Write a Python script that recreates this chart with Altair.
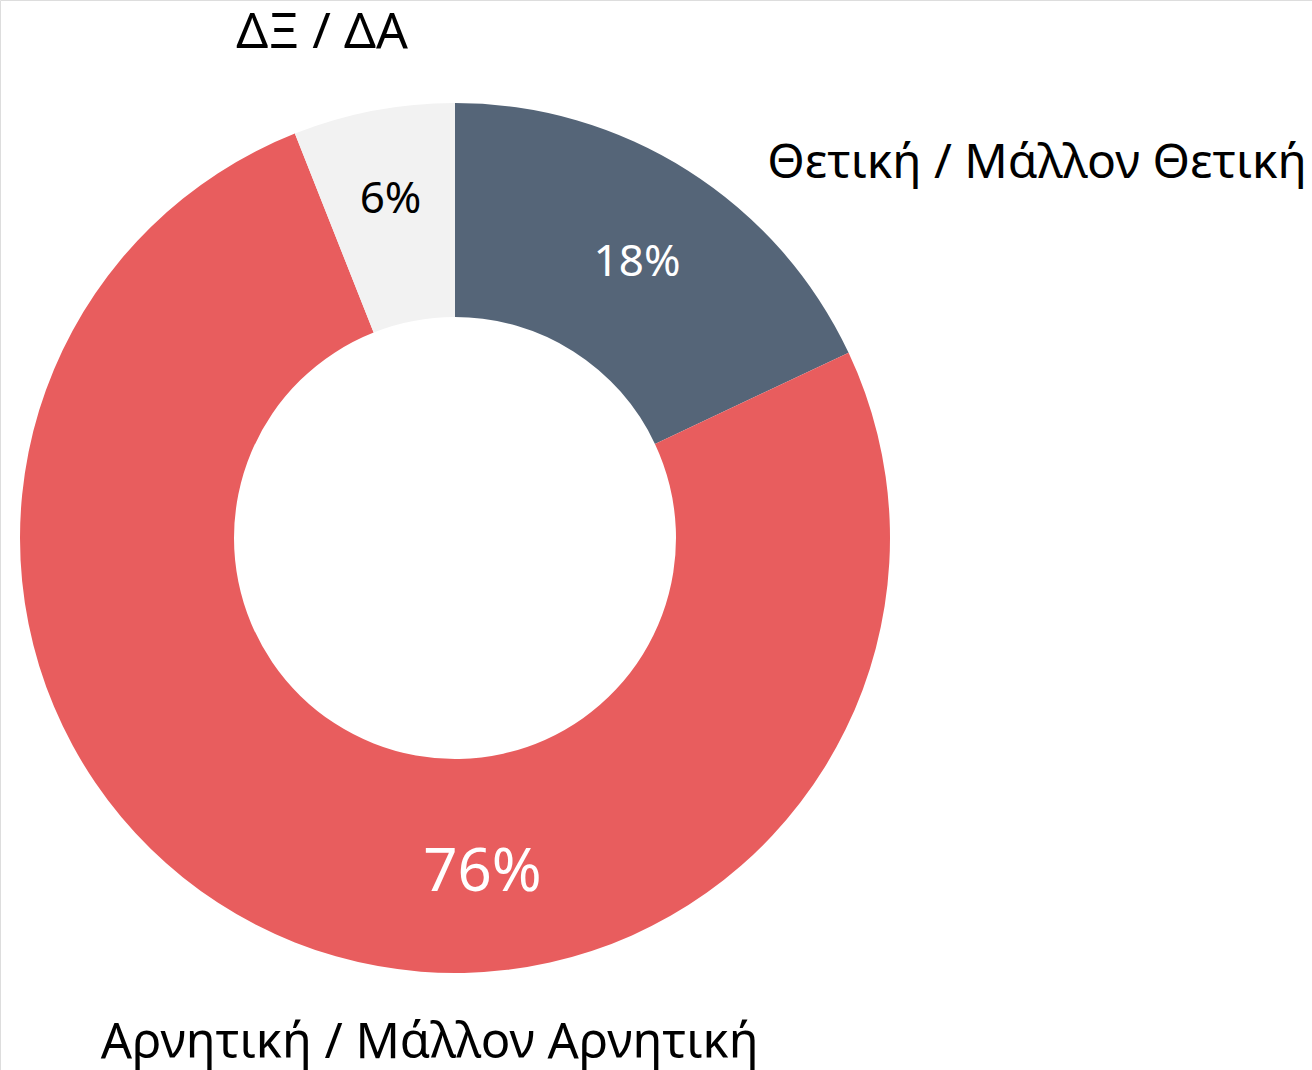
import altair as alt
import pandas as pd

categories = ["Θετική / Μάλλον Θετική", "Αρνητική / Μάλλον Αρνητική", "ΔΞ / ΔΑ"]
shares = [18, 76, 6]
pct_labels = ["18%", "76%", "6%"]
slice_order = [0, 1, 2]

# label placement (angle in percent-of-circle units, radius in px)
pct_label_angle = [9.3, 48.7, 97.0]
pct_label_radius = [330, 336, 344]
pct_label_size = [44, 60, 44]
cat_label_angle = [15.9, 50.8, 95.9]
cat_label_radius = [692, 506, 522]
cat_label_size = [48, 49, 50]

colors = ["#556578", "#E85D5E", "#F2F2F2"]
pct_text_colors = ["#FFFFFF", "#FFFFFF", "#000000"]

FONT = "Noto Sans"
CX, CY = 455, 538

df = pd.DataFrame({
    "cat": categories,
    "share": shares,
    "ord": slice_order,
    "pct": pct_labels,
    "pa": pct_label_angle,
    "pr": pct_label_radius,
    "ps": pct_label_size,
    "pc": pct_text_colors,
    "ca": cat_label_angle,
    "cr": cat_label_radius,
    "cs": cat_label_size,
})

theta_scale = alt.Scale(domain=[0, 100])

arcs = alt.Chart(df).mark_arc(radius=435, innerRadius=221).encode(
    theta=alt.Theta("share:Q", stack=True, scale=theta_scale),
    color=alt.Color("cat:N", scale=alt.Scale(domain=categories, range=colors), legend=None),
    order=alt.Order("ord:Q"),
    x=alt.value(CX),
    y=alt.value(CY),
)

pct_text = alt.Chart(df).mark_text(font=FONT, baseline="middle", align="center").encode(
    theta=alt.Theta("pa:Q", stack=False, scale=theta_scale),
    radius=alt.Radius("pr:Q", scale=None),
    text="pct:N",
    size=alt.Size("ps:Q", scale=None, legend=None),
    color=alt.Color("pc:N", scale=None, legend=None),
    x=alt.value(CX),
    y=alt.value(CY),
)

cat_text = alt.Chart(df).mark_text(font=FONT, baseline="middle", align="center", color="#000000").encode(
    theta=alt.Theta("ca:Q", stack=False, scale=theta_scale),
    radius=alt.Radius("cr:Q", scale=None),
    text="cat:N",
    size=alt.Size("cs:Q", scale=None, legend=None),
    x=alt.value(CX),
    y=alt.value(CY),
)

chart = alt.layer(arcs, pct_text, cat_text).resolve_scale(
    color="independent", size="independent"
).properties(
    width=1312, height=1070, padding=0, autosize=alt.AutoSizeParams(type="none")
).configure_view(stroke=None, strokeWidth=0).configure(background="#FFFFFF")

chart.save("out.html", embed_options={"renderer": "svg", "actions": False})
